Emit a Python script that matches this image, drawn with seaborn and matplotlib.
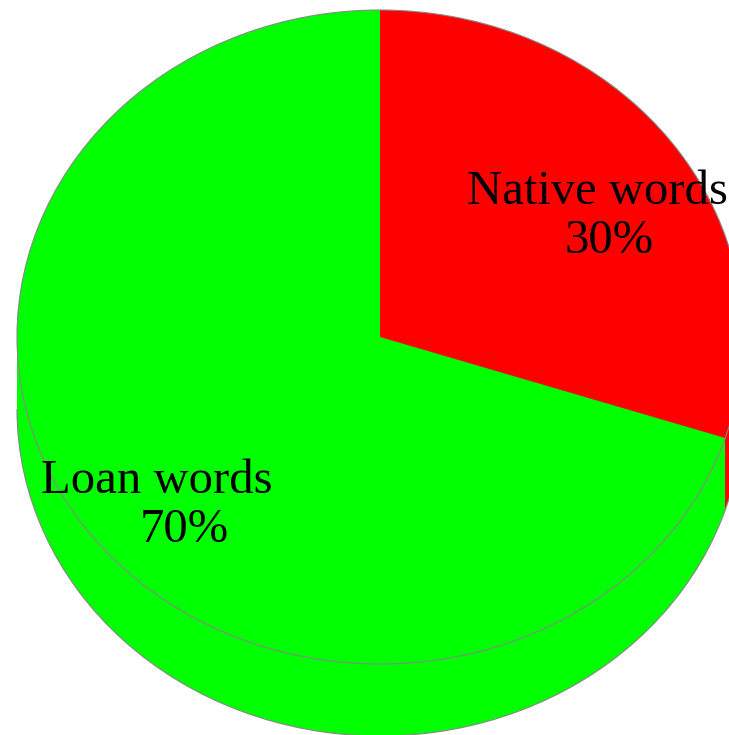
import matplotlib
matplotlib.use("Agg")
import matplotlib.pyplot as plt
from matplotlib.patches import Arc
import seaborn as sns

labels = ["Native words", "Loan words"]
values = [30, 70]
pct_labels = ["30%", "70%"]
colors = ["#FF0000", "#00FF00"]

sns.set_theme(style="white")
plt.rcParams["font.family"] = ["Liberation Serif", "DejaVu Serif"]

W, H = 729, 735
fig = plt.figure(figsize=(W / 100, H / 100), dpi=100)
ax = fig.add_axes([0, 0, 1, 1])

cx_px, cy_px = 380, 337
rx_px, ry_px = 363, 327
depth_px = 72

def to_data(px, py):
    return (px - cx_px) / rx_px, (cy_px - py) / ry_px

# side wall: stack of pies
for k in range(depth_px, 0, -1):
    ax.pie(values, colors=colors, startangle=90, counterclock=False,
           center=(0, -k / ry_px), radius=1,
           wedgeprops=dict(linewidth=0, edgecolor="none", antialiased=True))

# top face
ax.pie(values, colors=colors, startangle=90, counterclock=False,
       center=(0, 0), radius=1,
       wedgeprops=dict(linewidth=0, edgecolor="none"))

# outlines
ax.add_patch(Arc((0, 0), 2, 2, theta1=0, theta2=360, color="#888888", lw=0.8))
ax.add_patch(Arc((0, -depth_px / ry_px), 2, 2, theta1=180, theta2=360,
                 color="#888888", lw=0.8))

fs = 35
positions = {
    "Native words": ((597, 204), (609, 253)),
    "Loan words": ((157, 493), (184, 542)),
}
for lab, pct in zip(labels, pct_labels):
    (lx, ly), (px, py) = positions[lab]
    x, y = to_data(lx, ly)
    ax.text(x, y, lab, ha="center", va="baseline", fontsize=fs, color="black")
    x, y = to_data(px, py)
    ax.text(x, y, pct, ha="center", va="baseline", fontsize=fs, color="black")

ax.set_aspect("auto")
ax.set_xlim(-cx_px / rx_px, (W - cx_px) / rx_px)
ax.set_ylim(-(H - cy_px) / ry_px, cy_px / ry_px)
ax.axis("off")

fig.savefig("out.png", dpi=100, facecolor="white")
